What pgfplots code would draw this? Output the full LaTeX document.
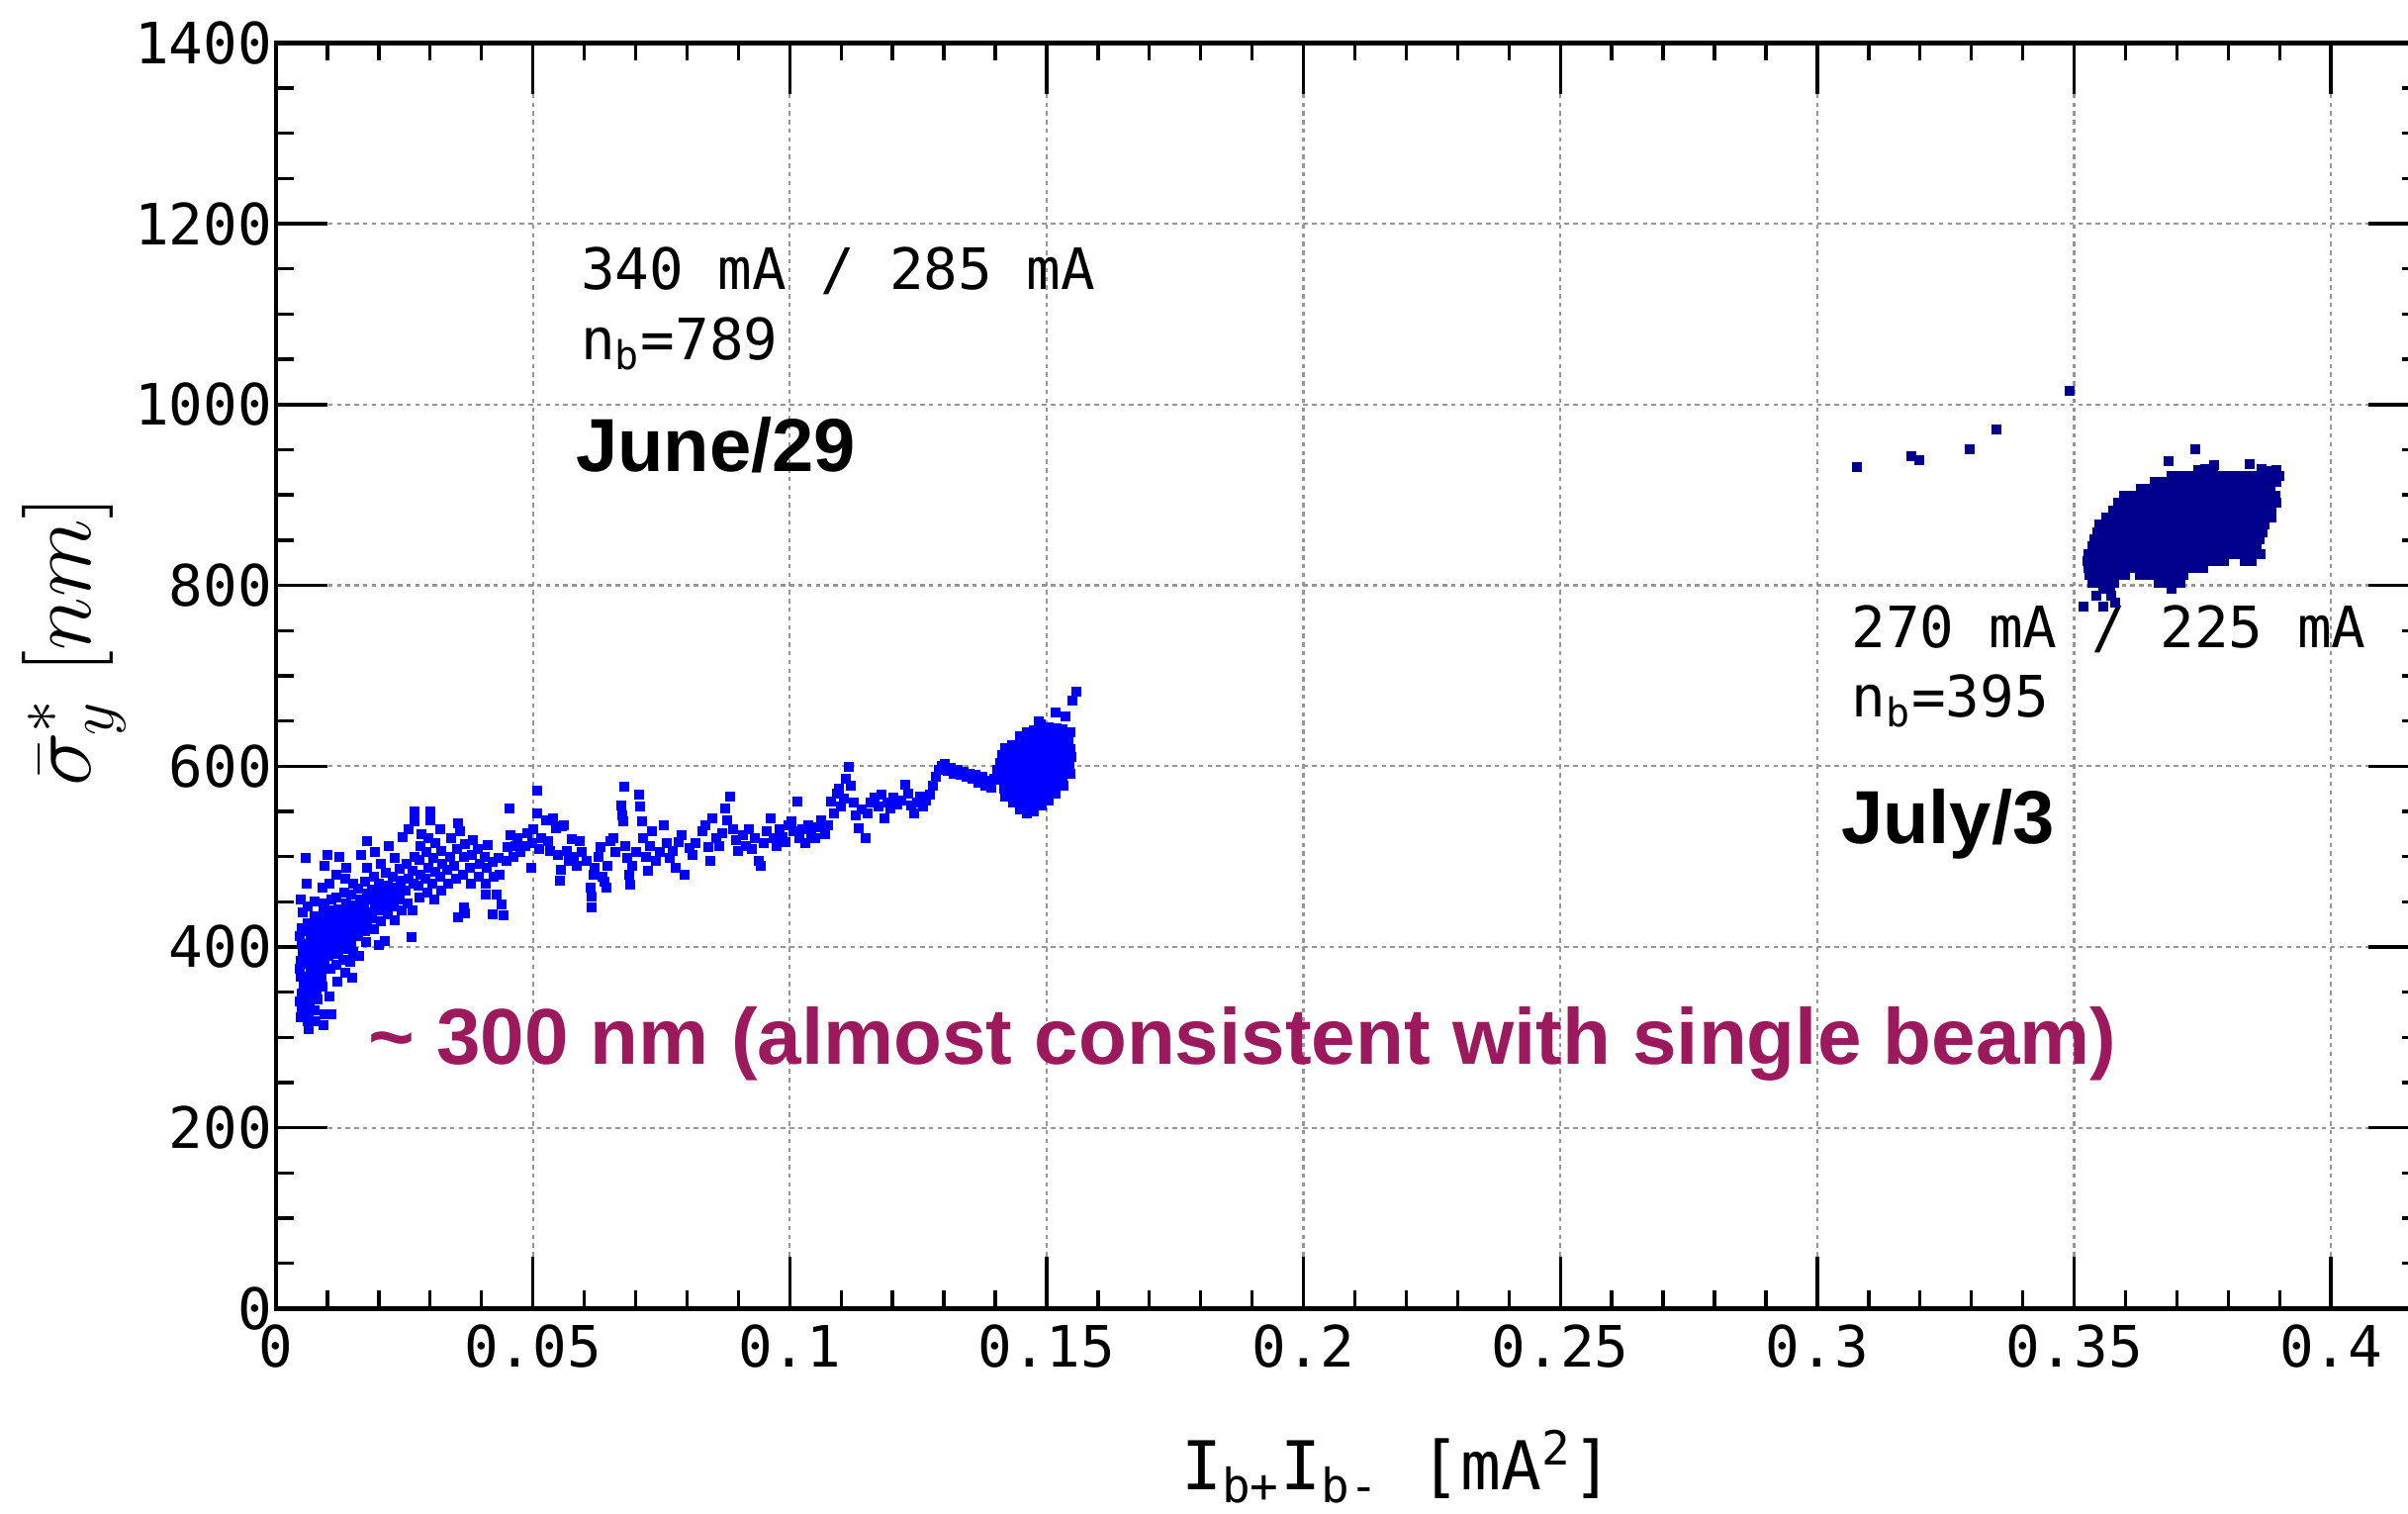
\RequirePackage{fix-cm}
\documentclass[border=0pt]{standalone}
\usepackage{fontspec}
\usepackage{pgfplots}
\pgfplotsset{compat=1.18}

\newfontfamily\monofam{DejaVu Sans Mono}
\newfontfamily\sansfam{Liberation Sans}

\definecolor{juneblue}{RGB}{0,0,255}
\definecolor{julynavy}{RGB}{0,0,140}
\definecolor{notecol}{RGB}{155,25,92}
\definecolor{gridgray}{RGB}{150,150,150}

\begin{document}
\begin{tikzpicture}
\begin{axis}[
  at={(0pt,0pt)}, anchor=south west,
  scale only axis, width=541.75pt, height=319.75pt,
  xmin=0, xmax=0.4173, ymin=0, ymax=1400,
  xtick={0,0.05,0.1,0.15,0.2,0.25,0.3,0.35,0.4},
  xticklabels={0,0.05,0.1,0.15,0.2,0.25,0.3,0.35,0.4},
  ytick={0,200,400,600,800,1000,1200,1400},
  yticklabels={0,200,400,600,800,1000,1200,1400},
  minor x tick num=4, minor y tick num=3,
  tick align=inside, xtick pos=both, ytick pos=both,
  xticklabel pos=lower, yticklabel pos=left,
  major tick length=13pt, minor tick length=4.5pt,
  every tick/.style={black, line width=0.85pt},
  axis line style={black, line width=1.1pt},
  grid=major,
  major grid style={gridgray, line width=0.55pt, dash pattern=on 1.1pt off 1.1pt},
  /pgf/number format/assume math mode=true,
  tick label style={font=\monofam\fontsize{14.4}{16}\selectfont},
  yticklabel style={xshift=2.5pt},
  xticklabel style={yshift=-0.5pt},
  xlabel={I\textsubscript{b+}I\textsubscript{b-} [mA\textsuperscript{2}]},
  xlabel style={at={(axis description cs:0.523,-0.143)}, anchor=base,
    font=\monofam\fontsize{17}{20}\selectfont},
  ylabel={$\bar{\sigma}^{*}_{y}\;[nm]$},
  ylabel style={at={(axis description cs:-0.0941,0.527)}, anchor=center,
    font=\fontsize{23}{27}\selectfont},
]

% June/29 run
\addplot[only marks, mark=square*, mark size=1.05pt, color=juneblue,
  mark options={draw=none}] table {
x y
0.0049 322
0.0050 331
0.0046 340
0.0050 349
0.0053 358
0.0049 367
0.0047 376
0.0048 385
0.0052 394
0.0051 403
0.0047 412
0.0050 421
0.0052 438
0.0048 452
0.0064 309
0.0061 318
0.0064 327
0.0066 336
0.0063 345
0.0060 354
0.0064 363
0.0067 372
0.0063 381
0.0061 390
0.0065 399
0.0067 408
0.0063 417
0.0061 426
0.0062 445
0.0060 470
0.0057 499
0.0078 318
0.0075 330
0.0080 342
0.0079 352
0.0076 362
0.0077 371
0.0080 380
0.0079 389
0.0076 398
0.0077 407
0.0080 416
0.0079 425
0.0076 434
0.0076 450
0.0092 314
0.0095 325
0.0091 356
0.0089 366
0.0093 376
0.0094 385
0.0090 394
0.0092 403
0.0095 412
0.0091 421
0.0089 430
0.0092 439
0.0095 448
0.0090 466
0.0095 490
0.0101 502
0.0104 345
0.0108 326
0.0106 376
0.0103 390
0.0108 400
0.0105 410
0.0102 420
0.0107 430
0.0104 441
0.0108 452
0.0104 470
0.0120 362
0.0117 380
0.0122 392
0.0119 401
0.0116 411
0.0121 420
0.0118 431
0.0122 442
0.0117 455
0.0123 500
0.0118 480
0.0134 372
0.0131 386
0.0136 398
0.0133 408
0.0130 417
0.0135 427
0.0132 437
0.0137 448
0.0133 460
0.0134 475
0.0136 488
0.0148 366
0.0145 384
0.0150 395
0.0147 405
0.0144 415
0.0149 425
0.0146 435
0.0151 446
0.0147 458
0.0150 470
0.0162 390
0.0159 412
0.0164 422
0.0161 432
0.0158 442
0.0163 452
0.0160 465
0.0165 502
0.0176 405
0.0173 418
0.0178 428
0.0175 438
0.0172 449
0.0177 459
0.0174 472
0.0178 517
0.0178 488
0.0190 420
0.0187 432
0.0192 443
0.0189 453
0.0186 463
0.0191 478
0.0192 505
0.0200 402
0.0204 428
0.0201 440
0.0206 450
0.0203 460
0.0200 470
0.0204 492
0.0211 407
0.0218 436
0.0215 447
0.0220 458
0.0217 468
0.0214 482
0.0220 512
0.0232 430
0.0229 445
0.0234 455
0.0231 466
0.0228 478
0.0232 498
0.0244 440
0.0241 452
0.0246 462
0.0243 473
0.0240 486
0.0246 522
0.0256 448
0.0253 462
0.0258 475
0.0255 492
0.0258 530
0.0264 411
0.0266 440
0.0268 470
0.0265 484
0.0270 500
0.0270 539
0.0270 550
0.0280 455
0.0277 468
0.0282 480
0.0279 496
0.0282 512
0.0284 525
0.0294 460
0.0291 475
0.0296 488
0.0293 505
0.0296 520
0.0300 550
0.0300 540
0.0308 452
0.0305 470
0.0310 483
0.0307 498
0.0310 515
0.0322 462
0.0319 478
0.0324 492
0.0321 506
0.0320 530
0.0336 470
0.0333 485
0.0338 500
0.0340 520
0.0350 475
0.0347 490
0.0352 508
0.0355 433
0.0355 537
0.0358 528
0.0364 480
0.0366 444
0.0368 437
0.0366 500
0.0368 514
0.0380 470
0.0377 487
0.0382 502
0.0384 518
0.0394 478
0.0396 492
0.0393 508
0.0408 470
0.0408 458
0.0410 488
0.0407 500
0.0412 513
0.0422 436
0.0424 478
0.0421 494
0.0430 458
0.0436 480
0.0433 499
0.0440 447
0.0443 435
0.0448 495
0.0450 510
0.0454 553
0.0456 524
0.0462 500
0.0466 512
0.0470 520
0.0476 505
0.0486 512
0.0490 526
0.0496 488
0.0498 515
0.0500 530
0.0509 573
0.0509 548
0.0512 508
0.0516 520
0.0525 540
0.0530 517
0.0534 506
0.0540 542
0.0545 531
0.0548 502
0.0553 473
0.0554 485
0.0556 533
0.0560 535
0.0566 506
0.0570 495
0.0576 519
0.0580 500
0.0586 490
0.0592 517
0.0596 505
0.0604 495
0.0612 466
0.0614 456
0.0615 444
0.0618 480
0.0620 488
0.0628 500
0.0632 510
0.0636 478
0.0640 472
0.0644 466
0.0646 490
0.0650 517
0.0656 520
0.0660 505
0.0672 557
0.0674 546
0.0676 539
0.0678 577
0.0680 512
0.0684 498
0.0688 480
0.0690 469
0.0694 490
0.0700 505
0.0706 568
0.0708 555
0.0712 539
0.0714 520
0.0720 500
0.0724 484
0.0728 512
0.0732 528
0.0740 495
0.0748 505
0.0754 535
0.0760 515
0.0766 498
0.0772 506
0.0778 488
0.0784 516
0.0790 524
0.0796 480
0.0804 509
0.0810 502
0.0816 515
0.0830 528
0.0836 535
0.0842 510
0.0846 495
0.0850 542
0.0856 520
0.0862 512
0.0868 526
0.0874 553
0.0878 540
0.0884 566
0.0890 530
0.0896 518
0.0900 506
0.0908 524
0.0914 512
0.0920 530
0.0926 508
0.0932 520
0.0940 495
0.0944 490
0.0950 515
0.0956 528
0.0962 542
0.0968 520
0.0974 512
0.0980 530
0.0986 522
0.0992 516
0.0998 535
0.1004 539
0.1008 528
0.1015 561
0.1018 520
0.1024 530
0.1030 515
0.1036 535
0.1042 526
0.1050 520
0.1056 532
0.1062 540
0.1068 525
0.1074 535
0.1080 561
0.1086 548
0.1092 570
0.1096 575
0.1100 555
0.1106 564
0.1110 586
0.1115 599
0.1118 578
0.1124 560
0.1128 545
0.1134 531
0.1140 552
0.1148 520
0.1152 548
0.1158 560
0.1165 565
0.1172 555
0.1178 568
0.1184 542
0.1190 560
0.1196 553
0.1202 565
0.1210 558
0.1218 562
0.1225 579
0.1230 570
0.1236 556
0.1242 548
0.1248 560
0.1254 566
0.1260 555
0.1266 562
0.1272 568
0.1278 578
0.1284 588
0.1290 596
0.1296 600
0.1302 602
0.1308 595
0.1313 598
0.1320 592
0.1326 596
0.1332 590
0.1338 594
0.1344 588
0.1350 592
0.1356 586
0.1362 590
0.1368 582
0.1374 588
0.1380 578
0.1386 584
0.1392 576
0.1398 586
0.1404 596
0.1410 604
0.1414 612
0.1412 585
0.1420 566
0.1418 575
0.1422 584
0.1420 593
0.1417 602
0.1421 611
0.1420 620
0.1434 560
0.1431 569
0.1435 578
0.1434 587
0.1431 596
0.1436 605
0.1434 614
0.1432 623
0.1448 552
0.1446 561
0.1450 570
0.1448 579
0.1445 588
0.1449 597
0.1448 606
0.1446 615
0.1450 624
0.1448 633
0.1462 548
0.1460 557
0.1464 566
0.1462 575
0.1459 584
0.1463 593
0.1462 602
0.1460 611
0.1464 620
0.1462 629
0.1461 638
0.1476 550
0.1474 559
0.1478 568
0.1476 577
0.1473 586
0.1477 595
0.1476 604
0.1474 613
0.1478 622
0.1476 631
0.1475 640
0.1490 556
0.1488 565
0.1492 574
0.1490 583
0.1487 592
0.1491 601
0.1490 610
0.1488 619
0.1492 628
0.1490 637
0.1489 646
0.1504 562
0.1502 571
0.1506 580
0.1504 589
0.1501 598
0.1505 607
0.1504 616
0.1502 625
0.1506 634
0.1504 643
0.1518 570
0.1516 579
0.1520 588
0.1518 597
0.1515 606
0.1519 615
0.1518 624
0.1516 633
0.1520 642
0.1518 659
0.1532 578
0.1530 587
0.1534 596
0.1532 605
0.1529 614
0.1533 623
0.1532 632
0.1530 641
0.1546 592
0.1544 601
0.1548 610
0.1546 619
0.1543 628
0.1547 637
0.1485 650
0.1536 655
0.1551 672
0.1557 682
};

% July/3 run
\addplot[only marks, mark=square*, mark size=1.05pt, color=julynavy,
  mark options={draw=none}] coordinates {
(0.3078,931) (0.3183,943) (0.3199,939) (0.3296,951) (0.3348,972) (0.3491,1015)
(0.3735,951) (0.3684,937) (0.3772,933) (0.3842,934)
(0.3742,928) (0.3756,929) (0.3770,927) (0.3864,929) (0.3878,927) (0.3893,928)
(0.3690,921) (0.3704,921) (0.3718,921) (0.3732,921) (0.3746,921) (0.3760,921) (0.3774,921) (0.3788,921)
(0.3802,921) (0.3816,921) (0.3830,921) (0.3844,921) (0.3858,921) (0.3872,921) (0.3886,921) (0.3900,921)
(0.3656,914) (0.3670,914) (0.3684,914) (0.3698,914) (0.3712,914) (0.3726,914) (0.3740,914) (0.3754,914) (0.3768,914)
(0.3782,914) (0.3796,914) (0.3810,914) (0.3824,914) (0.3838,914) (0.3852,914) (0.3866,914) (0.3880,914) (0.3894,914)
(0.3630,907) (0.3644,907) (0.3658,907) (0.3672,907) (0.3686,907) (0.3700,907) (0.3714,907) (0.3728,907) (0.3742,907) (0.3756,907)
(0.3770,907) (0.3784,907) (0.3798,907) (0.3812,907) (0.3826,907) (0.3840,907) (0.3854,907) (0.3868,907) (0.3882,907)
(0.3598,899) (0.3612,899) (0.3626,899) (0.3640,899) (0.3654,899) (0.3668,899) (0.3682,899) (0.3696,899) (0.3710,899) (0.3724,899) (0.3738,899)
(0.3752,899) (0.3766,899) (0.3780,899) (0.3794,899) (0.3808,899) (0.3822,899) (0.3836,899) (0.3850,899) (0.3864,899) (0.3878,899) (0.3892,899)
(0.3585,891) (0.3599,891) (0.3613,891) (0.3627,891) (0.3641,891) (0.3655,891) (0.3669,891) (0.3683,891) (0.3697,891) (0.3711,891) (0.3725,891) (0.3739,891)
(0.3753,891) (0.3767,891) (0.3781,891) (0.3795,891) (0.3809,891) (0.3823,891) (0.3837,891) (0.3851,891) (0.3865,891) (0.3879,891) (0.3893,891)
(0.3576,883) (0.3590,883) (0.3604,883) (0.3618,883) (0.3632,883) (0.3646,883) (0.3660,883) (0.3674,883) (0.3688,883) (0.3702,883) (0.3716,883) (0.3730,883)
(0.3744,883) (0.3758,883) (0.3772,883) (0.3786,883) (0.3800,883) (0.3814,883) (0.3828,883) (0.3842,883) (0.3856,883) (0.3870,883) (0.3884,883)
(0.3563,875) (0.3577,875) (0.3591,875) (0.3605,875) (0.3619,875) (0.3633,875) (0.3647,875) (0.3661,875) (0.3675,875) (0.3689,875) (0.3703,875) (0.3717,875)
(0.3731,875) (0.3745,875) (0.3759,875) (0.3773,875) (0.3787,875) (0.3801,875) (0.3815,875) (0.3829,875) (0.3843,875) (0.3857,875) (0.3871,875) (0.3885,875)
(0.3550,867) (0.3564,867) (0.3578,867) (0.3592,867) (0.3606,867) (0.3620,867) (0.3634,867) (0.3648,867) (0.3662,867) (0.3676,867) (0.3690,867) (0.3704,867)
(0.3718,867) (0.3732,867) (0.3746,867) (0.3760,867) (0.3774,867) (0.3788,867) (0.3802,867) (0.3816,867) (0.3830,867) (0.3844,867) (0.3858,867) (0.3870,867)
(0.3545,859) (0.3559,859) (0.3573,859) (0.3587,859) (0.3601,859) (0.3615,859) (0.3629,859) (0.3643,859) (0.3657,859) (0.3671,859) (0.3685,859) (0.3699,859)
(0.3713,859) (0.3727,859) (0.3741,859) (0.3755,859) (0.3769,859) (0.3783,859) (0.3797,859) (0.3811,859) (0.3825,859) (0.3839,859) (0.3853,859) (0.3866,859)
(0.3540,851) (0.3554,851) (0.3568,851) (0.3582,851) (0.3596,851) (0.3610,851) (0.3624,851) (0.3638,851) (0.3652,851) (0.3666,851) (0.3680,851) (0.3694,851)
(0.3708,851) (0.3722,851) (0.3736,851) (0.3750,851) (0.3764,851) (0.3778,851) (0.3792,851) (0.3806,851) (0.3820,851) (0.3834,851) (0.3848,851) (0.3861,851)
(0.3535,843) (0.3549,843) (0.3563,843) (0.3577,843) (0.3591,843) (0.3605,843) (0.3619,843) (0.3633,843) (0.3647,843) (0.3661,843) (0.3675,843) (0.3689,843)
(0.3703,843) (0.3717,843) (0.3731,843) (0.3745,843) (0.3759,843) (0.3773,843) (0.3787,843) (0.3801,843) (0.3815,843) (0.3829,843) (0.3843,843) (0.3856,843)
(0.3528,835) (0.3542,835) (0.3556,835) (0.3570,835) (0.3584,835) (0.3598,835) (0.3612,835) (0.3626,835) (0.3640,835) (0.3654,835) (0.3668,835) (0.3682,835)
(0.3696,835) (0.3710,835) (0.3724,835) (0.3738,835) (0.3752,835) (0.3766,835) (0.3780,835) (0.3794,835) (0.3808,835) (0.3822,835) (0.3836,835) (0.3850,835) (0.3863,835)
(0.3525,827) (0.3539,827) (0.3553,827) (0.3567,827) (0.3581,827) (0.3595,827) (0.3609,827) (0.3623,827) (0.3637,827) (0.3651,827) (0.3665,827)
(0.3679,827) (0.3693,827) (0.3707,827) (0.3721,827) (0.3735,827) (0.3749,827) (0.3763,827) (0.3777,827) (0.3791,827) (0.3832,827) (0.3846,827)
(0.3528,819) (0.3542,819) (0.3556,819) (0.3570,819) (0.3584,819) (0.3598,819) (0.3612,819) (0.3626,819) (0.3640,819)
(0.3654,819) (0.3668,819) (0.3682,819) (0.3696,819) (0.3710,819) (0.3724,819) (0.3738,819) (0.3752,819)
(0.3530,811) (0.3544,811) (0.3558,811) (0.3572,811) (0.3586,811) (0.3600,811)
(0.3628,811) (0.3642,811) (0.3656,811) (0.3670,811) (0.3684,811) (0.3698,811) (0.3712,811)
(0.3535,803) (0.3549,803) (0.3563,803) (0.3577,803) (0.3664,803) (0.3678,803) (0.3692,803) (0.3706,803)
(0.3556,796) (0.3570,796) (0.3690,796)
(0.3543,788) (0.3572,788) (0.3580,781) (0.3518,776) (0.3557,776)
};

% run annotations
\node[anchor=base west, inner sep=0pt, font=\monofam\fontsize{14.4}{16}\selectfont]
  at (axis cs:0.0592,1127) {340 mA / 285 mA};
\node[anchor=base west, inner sep=0pt, font=\monofam\fontsize{14.4}{16}\selectfont]
  at (axis cs:0.0592,1050) {n\textsubscript{b}=789};
\node[anchor=base west, inner sep=0pt, font=\sansfam\bfseries\fontsize{19}{22}\selectfont]
  at (axis cs:0.0582,926) {June/29};
\node[anchor=base west, inner sep=0pt, font=\monofam\fontsize{14.4}{16}\selectfont]
  at (axis cs:0.3065,731) {270 mA / 225 mA};
\node[anchor=base west, inner sep=0pt, font=\monofam\fontsize{14.4}{16}\selectfont]
  at (axis cs:0.3065,655) {n\textsubscript{b}=395};
\node[anchor=base west, inner sep=0pt, font=\sansfam\bfseries\fontsize{19}{22}\selectfont]
  at (axis cs:0.3045,514) {July/3};
\node[anchor=base west, inner sep=0pt, text=notecol, font=\sansfam\bfseries\fontsize{20}{24}\selectfont]
  at (axis cs:0.0178,270) {\textasciitilde{} 300 nm (almost consistent with single beam)};
\end{axis}
\pgfresetboundingbox
\path[use as bounding box] (-69.75pt,-51.9pt) rectangle (538.75pt,330.6pt);
\end{tikzpicture}
\end{document}
